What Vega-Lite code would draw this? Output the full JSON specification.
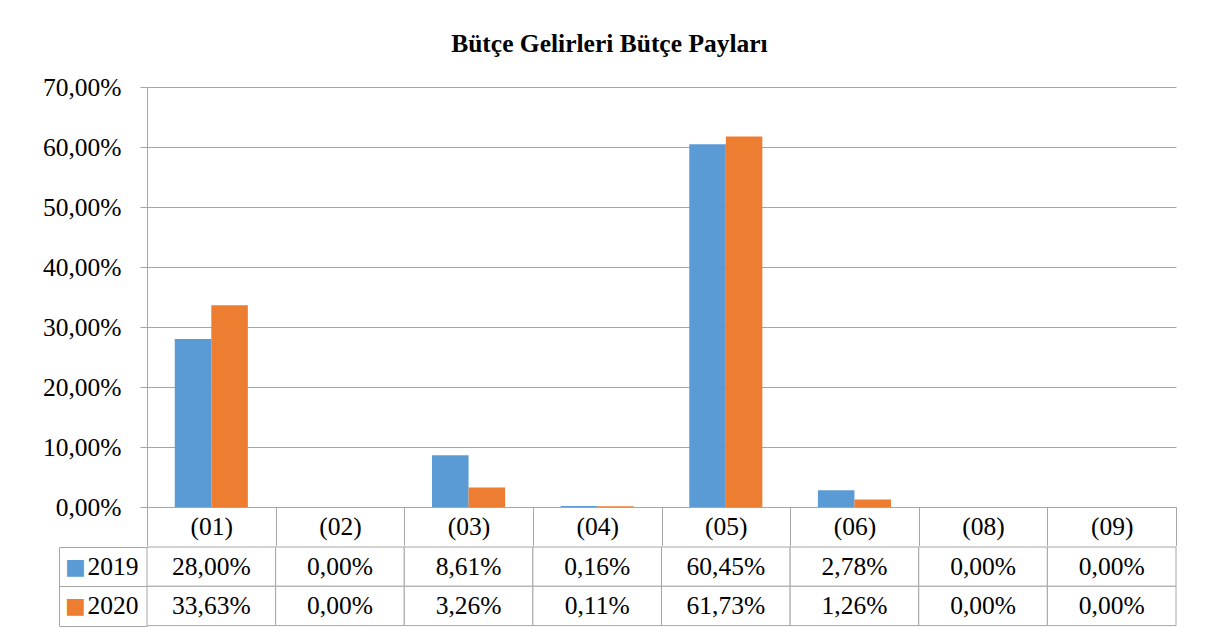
{
  "$schema": "https://vega.github.io/schema/vega-lite/v6.json",
  "padding": {"left": 42, "top": 32, "right": 30, "bottom": 10},
  "config": {
    "locale": {"number": {"decimal": ",", "thousands": ".", "grouping": [3], "currency": ["", " TL"]}},
    "font": "Liberation Serif",
    "view": {"stroke": null},
    "axis": {"labelFont": "Liberation Serif", "labelFontSize": 25.5, "labelColor": "#000000", "domainColor": "#a6a6a6", "tickColor": "#a6a6a6", "gridColor": "#a6a6a6", "title": null}
  },
  "title": {"text": "Bütçe Gelirleri Bütçe Payları", "font": "Liberation Serif", "fontSize": 25.5, "fontWeight": "bold", "color": "#000000", "anchor": "middle", "offset": 17.5},
  "datasets": {
    "shares": [
      {"kod": "(01)", "yil": "2019", "pay": 0.28},
      {"kod": "(02)", "yil": "2019", "pay": 0.0},
      {"kod": "(03)", "yil": "2019", "pay": 0.0861},
      {"kod": "(04)", "yil": "2019", "pay": 0.0016},
      {"kod": "(05)", "yil": "2019", "pay": 0.6045},
      {"kod": "(06)", "yil": "2019", "pay": 0.0278},
      {"kod": "(08)", "yil": "2019", "pay": 0.0},
      {"kod": "(09)", "yil": "2019", "pay": 0.0},
      {"kod": "(01)", "yil": "2020", "pay": 0.3363},
      {"kod": "(02)", "yil": "2020", "pay": 0.0},
      {"kod": "(03)", "yil": "2020", "pay": 0.0326},
      {"kod": "(04)", "yil": "2020", "pay": 0.0011},
      {"kod": "(05)", "yil": "2020", "pay": 0.6173},
      {"kod": "(06)", "yil": "2020", "pay": 0.0126},
      {"kod": "(08)", "yil": "2020", "pay": 0.0},
      {"kod": "(09)", "yil": "2020", "pay": 0.0}
    ]
  },
  "spacing": -11,
  "vconcat": [
    {
      "width": 1029,
      "height": 420,
      "data": {"name": "shares"},
      "mark": {"type": "bar"},
      "encoding": {
        "x": {"field": "kod", "type": "nominal", "sort": null,
          "scale": {"paddingInner": 0, "paddingOuter": 0},
          "axis": {"title": null, "labelAngle": 0, "domain": true, "ticks": true, "tickBand": "extent", "tickSize": 38.5, "labelPadding": -19.2, "labelBaseline": "middle", "grid": false, "minExtent": 38.5, "maxExtent": 38.5}},
        "xOffset": {"field": "yil", "type": "nominal", "scale": {"paddingInner": 0, "paddingOuter": 0.76}},
        "y": {"field": "pay", "type": "quantitative",
          "scale": {"domain": [0, 0.7], "nice": false},
          "axis": {"title": null, "values": [0, 0.1, 0.2, 0.3, 0.4, 0.5, 0.6, 0.7], "format": ".2%", "grid": true, "tickSize": 7, "labelPadding": 19, "domain": true}},
        "color": {"field": "yil", "type": "nominal", "scale": {"domain": ["2019", "2020"], "range": ["#5b9bd5", "#ed7d31"]}, "legend": null}
      }
    },
    {
      "width": 1029,
      "height": 78.6,
      "data": {"name": "shares"},
      "encoding": {
        "x": {"field": "kod", "type": "nominal", "sort": null, "scale": {"paddingInner": 0, "paddingOuter": 0}, "axis": null}
      },
      "layer": [
        {
          "mark": {"type": "rect", "fill": "#ffffff", "stroke": "#a6a6a6", "strokeWidth": 1},
          "encoding": {
            "y": {"field": "yil", "type": "nominal", "scale": {"domain": ["2019", "2020"], "paddingInner": 0, "paddingOuter": 0},
              "axis": {"orient": "left", "domain": false, "ticks": true, "tickBand": "extent", "tickSize": 88, "labelPadding": -79, "labelAlign": "right", "labelBaseline": "middle", "title": null, "grid": false}}
          }
        },
        {
          "mark": {"type": "text", "font": "Liberation Serif", "fontSize": 25.5, "color": "#000000"},
          "encoding": {
            "text": {"field": "pay", "type": "quantitative", "format": ".2%"},
            "y": {"field": "yil", "type": "nominal",
              "axis": {"orient": "left", "offset": 88, "domain": true, "ticks": false, "labelExpr": "'■'", "labelFont": "DejaVu Sans", "labelFontSize": 22, "labelAlign": "center", "labelBaseline": "middle", "labelPadding": -16,
                "labelColor": {"condition": {"test": "datum.value == '2019'", "value": "#5b9bd5"}, "value": "#ed7d31"}, "title": null, "grid": false}}
          }
        }
      ],
      "resolve": {"axis": {"y": "independent"}}
    }
  ]
}
